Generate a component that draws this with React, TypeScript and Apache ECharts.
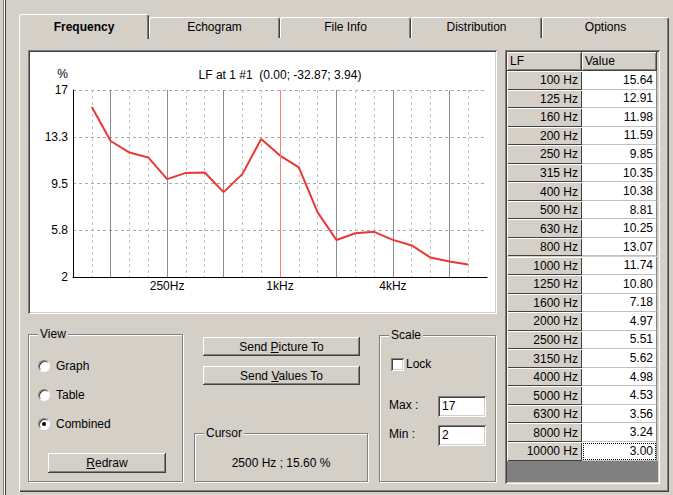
import React, { useEffect, useRef } from "react";
import * as echarts from "echarts";

const BANDS = ["80", "100", "125", "160", "200", "250", "315", "400", "500", "630", "800", "1000", "1250", "1600", "2000", "2500", "3150", "4000", "5000", "6300", "8000", "10000", "12500"];
const TABLE_BANDS = ["100", "125", "160", "200", "250", "315", "400", "500", "630", "800", "1000", "1250", "1600", "2000", "2500", "3150", "4000", "5000", "6300", "8000", "10000"];
const LF_VALUES = [15.64, 12.91, 11.98, 11.59, 9.85, 10.35, 10.38, 8.81, 10.25, 13.07, 11.74, 10.8, 7.18, 4.97, 5.51, 5.62, 4.98, 4.53, 3.56, 3.24, 3.0];
const Y_TICKS = [2, 5.75, 9.5, 13.25, 17];
const X_TICK_LABELS: Record<string, string> = { "250": "250Hz", "1000": "1kHz", "4000": "4kHz" };
const OCTAVE_BANDS = ["125", "250", "500", "1000", "2000", "4000", "8000"];
const CURSOR_BAND = "1000";
const TITLE = "LF at 1 #1  (0.00; -32.87; 3.94)";
const TABS = ["Frequency", "Echogram", "File Info", "Distribution", "Options"];
const TAB_EDGES = [19, 149, 280, 411, 542, 669];

const FONT = "'Liberation Sans', Arial, sans-serif";
const BG = "#d4d0c8";

const raised: React.CSSProperties = {
  background: BG,
  boxShadow: "inset -1px -1px #404040, inset 1px 1px #ffffff, inset -2px -2px #808080, inset 2px 2px #d4d0c8",
};
const sunken: React.CSSProperties = {
  boxShadow: "inset 1px 1px #808080, inset -1px -1px #ffffff, inset 2px 2px #404040, inset -2px -2px #d4d0c8",
};

function abs(left: number, top: number, width: number, height: number, extra: React.CSSProperties = {}): React.CSSProperties {
  return { position: "absolute", left, top, width, height, boxSizing: "border-box", ...extra };
}

function Chart() {
  const ref = useRef<HTMLDivElement>(null);
  useEffect(() => {
    const chart = echarts.init(ref.current!, null, { renderer: "svg" });
    const cursorIndex = BANDS.indexOf(CURSOR_BAND);
    chart.setOption({
      animation: false,
      textStyle: { fontFamily: FONT },
      grid: { left: 43, right: 8, top: 38, bottom: 35, containLabel: false },
      graphic: [
        {
          type: "text",
          x: 250,
          y: 23,
          style: { text: TITLE, textAlign: "center", textVerticalAlign: "middle", fontSize: 12, fontFamily: FONT, fill: "#000" },
        },
      ],
      xAxis: [
        {
          type: "category",
          data: BANDS,
          boundaryGap: false,
          axisLine: { onZero: false, lineStyle: { color: "#000", width: 1 } },
          axisTick: { show: false },
          axisLabel: {
            interval: (_i: number, v: string) => v in X_TICK_LABELS,
            formatter: (v: string) => X_TICK_LABELS[v] ?? "",
            margin: 3,
            color: "#000",
            fontSize: 12,
            fontFamily: FONT,
          },
          splitLine: {
            show: true,
            interval: (i: number, v: string) => i > 0 && i < BANDS.length - 1 && !OCTAVE_BANDS.includes(v),
            lineStyle: { color: "#c4c4c4", type: [3, 3], width: 1 },
          },
        },
        {
          type: "category",
          data: BANDS,
          boundaryGap: false,
          position: "top",
          axisLine: { show: false },
          axisTick: { show: false },
          axisLabel: { show: false },
          splitLine: {
            show: true,
            interval: (_i: number, v: string) => OCTAVE_BANDS.includes(v) && v !== CURSOR_BAND,
            lineStyle: { color: "#8c8c8c", width: 1, type: "solid" },
          },
        },
      ],
      yAxis: {
        type: "value",
        min: 2,
        max: 17,
        name: "%",
        nameLocation: "end",
        nameGap: 16,
        nameTextStyle: { color: "#000", fontSize: 12, fontFamily: FONT, align: "right", verticalAlign: "middle", padding: [0, 5, 0, 0] },
        axisLine: { show: true, lineStyle: { color: "#000", width: 1 } },
        axisTick: { show: false, customValues: Y_TICKS },
        axisLabel: {
          customValues: Y_TICKS,
          formatter: (v: number) => (Number.isInteger(v) ? String(v) : v.toFixed(1)),
          margin: 5,
          color: "#000",
          fontSize: 12,
          fontFamily: FONT,
        },
        splitLine: { show: true, lineStyle: { color: "#a8a8a8", type: [3, 3], width: 1 } },
      },
      series: [
        {
          type: "line",
          data: TABLE_BANDS.map((b, i) => [b, LF_VALUES[i]]),
          symbol: "none",
          lineStyle: { color: "#ee3535", width: 2 },
          markLine: {
            silent: true,
            symbol: "none",
            label: { show: false },
            lineStyle: { color: "#f58080", type: "solid", width: 1 },
            data: [{ xAxis: cursorIndex }],
          },
        },
      ],
    });
    return () => chart.dispose();
  }, []);
  return <div ref={ref} style={abs(30, 52, 465, 260, { background: "#fff" })} />;
}

function GroupBox(props: { left: number; top: number; width: number; height: number; label: string; labelLeft: number; children?: React.ReactNode }) {
  return (
    <div
      style={abs(props.left, props.top, props.width, props.height, {
        border: "1px solid #808080",
        boxShadow: "1px 1px 0 #ffffff, inset 1px 1px 0 #ffffff",
      })}
    >
      <span style={{ position: "absolute", left: props.labelLeft, top: -8, background: BG, padding: "0 2px", lineHeight: "14px", whiteSpace: "nowrap" }}>
        {props.label}
      </span>
      {props.children}
    </div>
  );
}

function Button(props: { left: number; top: number; width: number; height: number; children: React.ReactNode }) {
  return (
    <div
      style={abs(props.left, props.top, props.width, props.height, {
        ...raised,
        display: "flex",
        alignItems: "center",
        justifyContent: "center",
        whiteSpace: "nowrap",
      })}
    >
      {props.children}
    </div>
  );
}

function Radio(props: { cx: number; cy: number; label: string; checked?: boolean }) {
  return (
    <>
      <div
        style={abs(props.cx - 6, props.cy - 6, 12, 12, {
          borderRadius: "50%",
          background: "#fff",
          border: "1px solid",
          borderColor: "#808080 #ffffff #ffffff #808080",
          boxShadow: "inset 1px 1px #404040",
        })}
      >
        {props.checked ? <div style={abs(3, 3, 4, 4, { borderRadius: "50%", background: "#000" })} /> : null}
      </div>
      <div style={{ position: "absolute", left: props.cx + 12, top: props.cy - 7, lineHeight: "14px", whiteSpace: "nowrap" }}>{props.label}</div>
    </>
  );
}

function Table() {
  const rowTop = 71;
  const rowH = 18.55;
  const lastBottom = rowTop + TABLE_BANDS.length * rowH;
  return (
    <>
      <div style={abs(505, 50, 155, 434, { background: BG, ...sunken })} />
      <div style={abs(507, 52, 75, 19, { ...raised, paddingLeft: 3, lineHeight: "19px" })}>LF</div>
      <div style={abs(582, 52, 75, 19, { ...raised, paddingLeft: 3, lineHeight: "19px" })}>Value</div>
      {TABLE_BANDS.map((b, i) => (
        <React.Fragment key={b}>
          <div
            style={abs(507, rowTop + i * rowH, 75, rowH, {
              background: BG,
              boxShadow: "inset 1px 1px #ffffff, inset -1px -1px #404040",
              display: "flex",
              alignItems: "center",
              justifyContent: "flex-end",
              paddingRight: 4,
            })}
          >
            {b} Hz
          </div>
          <div
            style={abs(582, rowTop + i * rowH, 75, rowH, {
              background: "#fff",
              borderBottom: "1px solid #c0c0c0",
              borderRight: "1px solid #808080",
              display: "flex",
              alignItems: "center",
              justifyContent: "flex-end",
              paddingRight: 3,
              outline: i === TABLE_BANDS.length - 1 ? "1px dotted #000" : undefined,
              outlineOffset: -2,
            })}
          >
            {LF_VALUES[i].toFixed(2)}
          </div>
        </React.Fragment>
      ))}
      <div style={abs(507, lastBottom, 151, 482 - lastBottom, { background: "#808080" })} />
    </>
  );
}

export default function App() {
  return (
    <div style={abs(0, 0, 673, 495, { background: BG, fontFamily: FONT, fontSize: 12, color: "#000", overflow: "hidden" })}>
      {/* window frame */}
      <div style={abs(3, 0, 1, 495, { background: "#808080" })} />
      <div style={abs(4, 0, 1, 495, { background: "#ffffff" })} />
      <div style={abs(5, 0, 1, 495, { background: "#404040" })} />

      {/* tab page body */}
      <div style={abs(19, 37, 650, 455, { background: BG, boxShadow: "inset 1px 1px #ffffff, inset -1px -1px #404040, inset -2px -2px #808080" })} />

      {/* tabs */}
      {TABS.map((t, i) => {
        const selected = i === 0;
        const left = TAB_EDGES[i];
        const width = TAB_EDGES[i + 1] - TAB_EDGES[i];
        return (
          <div
            key={t}
            style={abs(selected ? left : left, selected ? 14 : 17, width, selected ? 25 : 21, {
              background: BG,
              borderTop: "1px solid #ffffff",
              borderLeft: "1px solid #ffffff",
              borderRight: "1px solid #404040",
              boxShadow: "inset -1px 0 #808080",
              borderRadius: "3px 3px 0 0",
              textAlign: "center",
              lineHeight: selected ? "24px" : "19px",
              fontWeight: selected ? "bold" : "normal",
              zIndex: selected ? 2 : 1,
              whiteSpace: "nowrap",
            })}
          >
            {t}
          </div>
        );
      })}

      {/* chart panel */}
      <div style={abs(28, 50, 469, 264, { background: "#fff", ...sunken })} />
      <Chart />

      {/* table */}
      <Table />

      {/* View group */}
      <GroupBox left={28} top={334} width={155} height={148} label="View" labelLeft={9} />
      <Radio cx={44} cy={366} label="Graph" />
      <Radio cx={44} cy={395} label="Table" />
      <Radio cx={44} cy={424} label="Combined" checked />
      <Button left={48} top={453} width={118} height={20}>
        <span>
          <u>R</u>edraw
        </span>
      </Button>

      {/* Send buttons */}
      <Button left={203} top={337} width={157} height={19}>
        <span>
          Send <u>P</u>icture To
        </span>
      </Button>
      <Button left={203} top={366} width={157} height={19}>
        <span>
          Send <u>V</u>alues To
        </span>
      </Button>

      {/* Cursor group */}
      <GroupBox left={194} top={433} width={174} height={49} label="Cursor" labelLeft={9}>
        <div style={{ position: "absolute", left: 0, right: 0, top: 22, textAlign: "center", lineHeight: "14px" }}>2500 Hz ; 15.60 %</div>
      </GroupBox>

      {/* Scale group */}
      <GroupBox left={379} top={335} width={117} height={147} label="Scale" labelLeft={9} />
      <div style={abs(391, 358, 13, 13, { background: "#fff", ...sunken })} />
      <div style={{ position: "absolute", left: 406, top: 357, lineHeight: "14px" }}>Lock</div>
      <div style={{ position: "absolute", left: 389, top: 398, lineHeight: "14px" }}>Max :</div>
      <div style={abs(438, 396, 48, 21, { background: "#fff", ...sunken, paddingLeft: 4, lineHeight: "21px" })}>17</div>
      <div style={{ position: "absolute", left: 389, top: 427, lineHeight: "14px" }}>Min :</div>
      <div style={abs(438, 425, 48, 21, { background: "#fff", ...sunken, paddingLeft: 4, lineHeight: "21px" })}>2</div>
    </div>
  );
}
